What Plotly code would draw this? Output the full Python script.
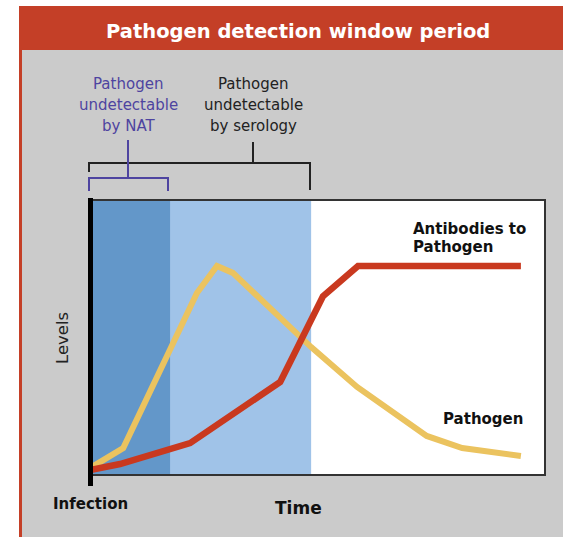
import plotly.graph_objects as go

# ---- data (arbitrary time / level units, 0-100) ----
time_pathogen = [0, 7.3, 23.5, 27.9, 31.4, 48.6, 58.7, 74.0, 81.8, 94.7]
level_pathogen = [2.5, 9.8, 66.2, 76.0, 73.5, 46.5, 32.0, 14.2, 9.8, 6.9]

time_antibody = [0, 6.6, 22.0, 41.8, 51.2, 58.9, 94.7]
level_antibody = [1.8, 4.0, 11.6, 33.8, 65.0, 76.0, 76.0]

nat_window = [0, 17.6]        # pathogen undetectable by NAT
serology_window = [0, 48.6]   # pathogen undetectable by serology

W, H = 563, 537
L, R, T, B = 90, 545, 200, 475   # plot area in page pixels


def px(xp, yp):
    return (xp - L) / (R - L), (B - yp) / (B - T)


RED = "#C43F27"
GRAY = "#CBCBCB"
DARKBLUE = "#6397C9"
LIGHTBLUE = "#A0C3E8"
YELLOW = "#EBC35F"
ABRED = "#C9391F"
PURPLE = "#4E44A0"
FONT = "DejaVu Sans"

fig = go.Figure()

fig.add_trace(go.Scatter(x=time_pathogen, y=level_pathogen, mode="lines",
                         line=dict(color=YELLOW, width=6), hoverinfo="skip",
                         showlegend=False))
fig.add_trace(go.Scatter(x=time_antibody, y=level_antibody, mode="lines",
                         line=dict(color=ABRED, width=6.5), hoverinfo="skip",
                         showlegend=False))

shapes = []


def rect_px(x0, y0, x1, y1, color, layer="below"):
    a, b = px(x0, y0)
    c, d = px(x1, y1)
    shapes.append(dict(type="rect", xref="paper", yref="paper", x0=a, y0=b, x1=c, y1=d,
                       fillcolor=color, line=dict(width=0), layer=layer))


def line_px(x0, y0, x1, y1, color, width, layer="above"):
    a, b = px(x0, y0)
    c, d = px(x1, y1)
    shapes.append(dict(type="line", xref="paper", yref="paper", x0=a, y0=b, x1=c, y1=d,
                       line=dict(color=color, width=width), layer=layer))


# background panels (page background is the grey panel colour)
rect_px(-50, -50, 19, 620, "white")
rect_px(-50, -50, 620, 6, "white")
rect_px(19, 6, 620, 50, RED)
rect_px(19, 6, 22, 620, RED)
rect_px(L, T, R, B, "white")

# detection windows (data x, paper y)
shapes.append(dict(type="rect", xref="x", yref="paper", x0=serology_window[0], x1=serology_window[1],
                   y0=0, y1=1, fillcolor=LIGHTBLUE, line=dict(width=0), layer="below"))
shapes.append(dict(type="rect", xref="x", yref="paper", x0=nat_window[0], x1=nat_window[1],
                   y0=0, y1=1, fillcolor=DARKBLUE, line=dict(width=0), layer="below"))

# frame
a, b = px(L, T)
c, d = px(R, B)
shapes.append(dict(type="rect", xref="paper", yref="paper", x0=a, y0=d, x1=c, y1=b,
                   line=dict(color="#333333", width=2), fillcolor="rgba(0,0,0,0)", layer="above"))
# thick left axis
line_px(90.5, 198, 90.5, 486, "black", 5)

# serology bracket (black)
line_px(89, 163, 310, 163, "#222222", 2)
line_px(89, 162, 89, 172, "#222222", 2)
line_px(310, 162, 310, 190, "#222222", 2)
line_px(253, 142, 253, 163, "#222222", 2)

# NAT bracket (purple)
line_px(89, 178, 168, 178, PURPLE, 2)
line_px(89, 177, 89, 191, PURPLE, 2)
line_px(168, 177, 168, 191, PURPLE, 2)
line_px(128, 140, 128, 178, PURPLE, 2)

annotations = []


def text_px(x, y, text, size, color, bold=False, xanchor="center", angle=0):
    a, b = px(x, y)
    annotations.append(dict(xref="paper", yref="paper", x=a, y=b, text=text, showarrow=False,
                            xanchor=xanchor, yanchor="middle", textangle=angle,
                            font=dict(family=FONT, size=size, color=color,
                                      weight=700 if bold else 400)))


text_px(298, 31, "Pathogen detection window period", 19.5, "white", bold=True)
for i, s in enumerate(["Pathogen", "undetectable", "by NAT"]):
    text_px(128, 84 + 21 * i, s, 15, PURPLE)
for i, s in enumerate(["Pathogen", "undetectable", "by serology"]):
    text_px(253, 84 + 21 * i, s, 15, "#222222")
for i, s in enumerate(["Antibodies to", "Pathogen"]):
    text_px(411, 229 + 18 * i, s, 15, "#111111", bold=True, xanchor="left")
text_px(441, 419, "Pathogen", 15, "#111111", bold=True, xanchor="left")
text_px(62, 338, "Levels", 16.5, "#222222", angle=-90)
text_px(90, 504, "Infection", 15, "#111111", bold=True)
text_px(298, 508, "Time", 17, "#111111", bold=True)

fig.update_layout(
    width=W, height=H, autosize=False,
    margin=dict(l=L, r=W - R, t=T, b=H - B, pad=0),
    paper_bgcolor=GRAY, plot_bgcolor="rgba(0,0,0,0)",
    xaxis=dict(range=[0, 100], visible=False, fixedrange=True),
    yaxis=dict(range=[0, 100], visible=False, fixedrange=True),
    shapes=shapes, annotations=annotations, showlegend=False,
)

fig.write_html(
    "out.html",
    config={"displayModeBar": False, "staticPlot": True},
    post_script="document.body.style.margin='0';document.documentElement.style.overflow='hidden';",
)
